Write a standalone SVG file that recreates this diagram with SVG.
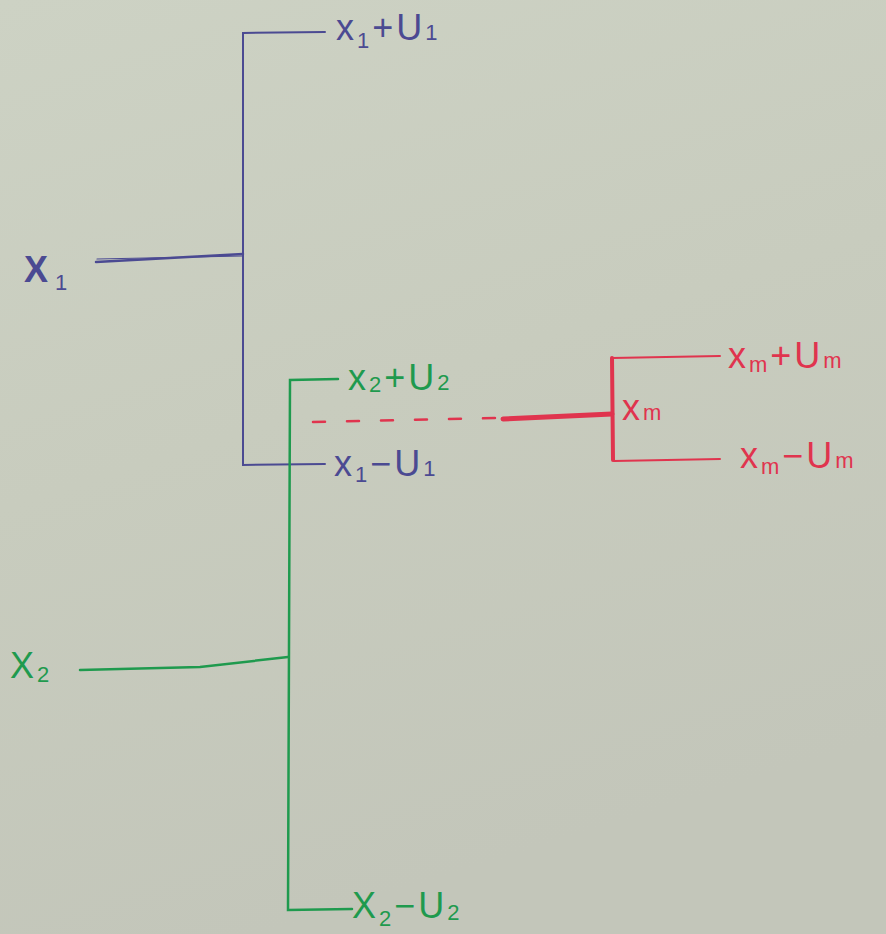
<svg xmlns="http://www.w3.org/2000/svg" width="886" height="934" viewBox="0 0 886 934">
  <defs>
    <linearGradient id="board" x1="0" y1="0" x2="0.3" y2="1">
      <stop offset="0" stop-color="#cdd2c4"/>
      <stop offset="0.5" stop-color="#c8ccbe"/>
      <stop offset="1" stop-color="#c3c6ba"/>
    </linearGradient>
    <style>
      .blue { stroke: #4b4a92; fill: none; stroke-linecap: round; }
      .green { stroke: #1f9a4e; fill: none; stroke-linecap: round; }
      .red { stroke: #e0344e; fill: none; stroke-linecap: round; }
      text { font-family: "Liberation Sans", "DejaVu Sans", sans-serif; font-size: 36px; letter-spacing: 3px; }
      .tb { fill: #4b4a92; }
      .tg { fill: #1f9a4e; }
      .tr { fill: #e0344e; }
      .sub { font-size: 22px; }
    </style>
  </defs>

  <rect width="886" height="934" fill="url(#board)"/>

  <!-- connectors: branch brackets for each variable -->
  <g id="connectors">
    <!-- x1 branch -->
    <path class="blue" stroke-width="2.5" d="M96 262 L243 254"/>
    <path class="blue" stroke-width="1.2" d="M97 259 L243 256"/>
    <path class="blue" stroke-width="2" d="M325 32 L243 33 L243 465 L325 464"/>
    <!-- x2 branch -->
    <path class="green" stroke-width="2.5" d="M80 670 L200 667 L288 657"/>
    <path class="green" stroke-width="2.5" d="M338 379 L290 380 L288 910 L352 909"/>
    <!-- xm branch -->
    <path class="red" stroke-width="2.5" stroke-dasharray="12 22" d="M313 422 L500 418"/>
    <path class="red" stroke-width="5" d="M503 419 L612 414"/>
    <path class="red" stroke-width="4" d="M612 358 L613 460"/>
    <path class="red" stroke-width="2" d="M612 358 L720 356"/>
    <path class="red" stroke-width="2" d="M614 461 L720 459"/>
  </g>

  <g id="x1">
    <text class="tb" x="24" y="282" font-size="46" font-weight="bold">X<tspan class="sub" dx="4" dy="8" font-weight="normal" font-size="24">1</tspan></text>
  </g>
  <g id="x1-plus">
    <text class="tb" x="336" y="40">x<tspan class="sub" dy="8">1</tspan><tspan dy="-8">+U</tspan><tspan class="sub" dy="0">1</tspan></text>
  </g>
  <g id="x1-minus">
    <text class="tb" x="334" y="476">x<tspan class="sub" dy="6">1</tspan><tspan dy="-6">−U</tspan><tspan class="sub">1</tspan></text>
  </g>

  <g id="x2">
    <text class="tg" x="10" y="678" font-size="40">X<tspan class="sub" dy="4">2</tspan></text>
  </g>
  <g id="x2-plus">
    <text class="tg" x="348" y="390">x<tspan class="sub" dy="2">2</tspan><tspan dy="-2">+U</tspan><tspan class="sub">2</tspan></text>
  </g>
  <g id="x2-minus">
    <text class="tg" x="352" y="918" font-size="40">X<tspan class="sub" dy="8">2</tspan><tspan dy="-8">−U</tspan><tspan class="sub" dy="2">2</tspan></text>
  </g>

  <g id="xm">
    <text class="tr" x="622" y="420">x<tspan class="sub">m</tspan></text>
  </g>
  <g id="xm-plus">
    <text class="tr" x="728" y="368">x<tspan class="sub" dy="4">m</tspan><tspan dy="-4">+U</tspan><tspan class="sub">m</tspan></text>
  </g>
  <g id="xm-minus">
    <text class="tr" x="740" y="468">x<tspan class="sub" dy="6">m</tspan><tspan dy="-6">−U</tspan><tspan class="sub">m</tspan></text>
  </g>
</svg>
